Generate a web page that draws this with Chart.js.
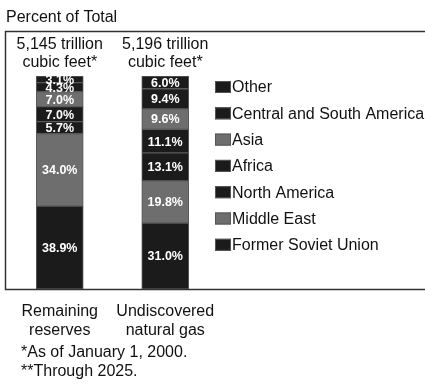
<!DOCTYPE html>
<html lang="en">

<head>
    <meta charset="UTF-8">
    <title>Natural Gas by Region</title>
    <script src="https://cdn.jsdelivr.net/npm/chart.js"></script>
    <style>
        body {
            margin: 0;
            padding: 0;
            background: #fff;
        }

        #wrap {
            width: 425px;
            height: 386px;
        }
    </style>
</head>

<body>
    <div id="wrap"><canvas id="myChart" width="425" height="386"></canvas></div>

    <script>
        const categories = [['Remaining', 'reserves'], ['Undiscovered', 'natural gas']];
        const totals = [['5,145 trillion', 'cubic feet*'], ['5,196 trillion', 'cubic feet*']];
        const regions = ['Former Soviet Union', 'Middle East', 'North America', 'Africa', 'Asia', 'Central and South America', 'Other'];
        const remaining = [38.9, 34.0, 5.7, 7.0, 7.0, 4.3, 3.1];
        const undiscovered = [31.0, 19.8, 13.1, 11.1, 9.6, 9.4, 6.0];
        const footnotes = ['*As of January 1, 2000.', '**Through 2025.'];

        const DARK = '#1b1b1b';
        const GRAY = '#6e6e6e';
        const colors = [DARK, GRAY, DARK, DARK, GRAY, DARK, DARK];
        const FONT = '"Liberation Sans", Arial, sans-serif';

        const datasets = regions.map((name, i) => ({
            label: name,
            data: [remaining[i], undiscovered[i]],
            backgroundColor: colors[i],
            borderColor: '#5a5a5a',
            borderWidth: 1,
            borderSkipped: false,
            barThickness: 47
        }));

        const extras = {
            id: 'extras',
            afterDraw(chart) {
                const ctx = chart.ctx;
                const area = chart.chartArea;
                const xs = chart.scales.x;
                ctx.save();

                // frame
                ctx.strokeStyle = '#333';
                ctx.lineWidth = 1.5;
                ctx.beginPath();
                ctx.moveTo(426, 31.5);
                ctx.lineTo(5.5, 31.5);
                ctx.lineTo(5.5, area.bottom + 0.5);
                ctx.lineTo(426, area.bottom + 0.5);
                ctx.stroke();

                ctx.fillStyle = '#111';
                ctx.textBaseline = 'middle';
                ctx.font = '16px ' + FONT;
                ctx.textAlign = 'left';
                ctx.fillText('Percent of Total', 6, 18);

                // totals above, categories below
                ctx.textAlign = 'center';
                categories.forEach((lines, i) => {
                    const cx = xs.getPixelForValue(i);
                    ctx.fillText(totals[i][0], cx, 45);
                    ctx.fillText(totals[i][1], cx, 63);
                    ctx.fillText(lines[0], cx, 312);
                    ctx.fillText(lines[1], cx, 331);
                });

                ctx.textAlign = 'left';
                footnotes.forEach((t, i) => ctx.fillText(t, 21, 353 + i * 19));

                // values inside segments
                ctx.font = 'bold 12.5px ' + FONT;
                ctx.fillStyle = '#fff';
                ctx.textAlign = 'center';
                chart.data.datasets.forEach((ds, di) => {
                    chart.getDatasetMeta(di).data.forEach((bar, bi) => {
                        ctx.fillText(ds.data[bi].toFixed(1) + '%', bar.x, (bar.y + bar.base) / 2 + 1);
                    });
                });

                // legend, top item first
                ctx.font = '16px ' + FONT;
                ctx.textAlign = 'left';
                for (let k = 0; k < regions.length; k++) {
                    const i = regions.length - 1 - k;
                    const y = 87 + k * 26.3;
                    ctx.fillStyle = colors[i];
                    ctx.fillRect(215, y - 6, 16, 12);
                    ctx.strokeStyle = '#555';
                    ctx.lineWidth = 1;
                    ctx.strokeRect(215.5, y - 5.5, 15, 11);
                    ctx.fillStyle = '#111';
                    ctx.fillText(regions[i], 232, y + 1);
                }
                ctx.restore();
            }
        };

        const ctx = document.getElementById('myChart').getContext('2d');

        const chart = new Chart(ctx, {
            type: 'bar',
            data: {
                labels: categories.map(c => c.join(' ')),
                datasets: datasets
            },
            options: {
                responsive: false,
                animation: false,
                layout: {
                    padding: { left: 7, right: 207, top: 76, bottom: 97 }
                },
                scales: {
                    x: {
                        stacked: true,
                        display: false
                    },
                    y: {
                        stacked: true,
                        display: false,
                        min: 0,
                        max: 100
                    }
                },
                plugins: {
                    legend: { display: false },
                    tooltip: { enabled: false }
                }
            },
            plugins: [extras]
        });
    </script>

</body>

</html>
